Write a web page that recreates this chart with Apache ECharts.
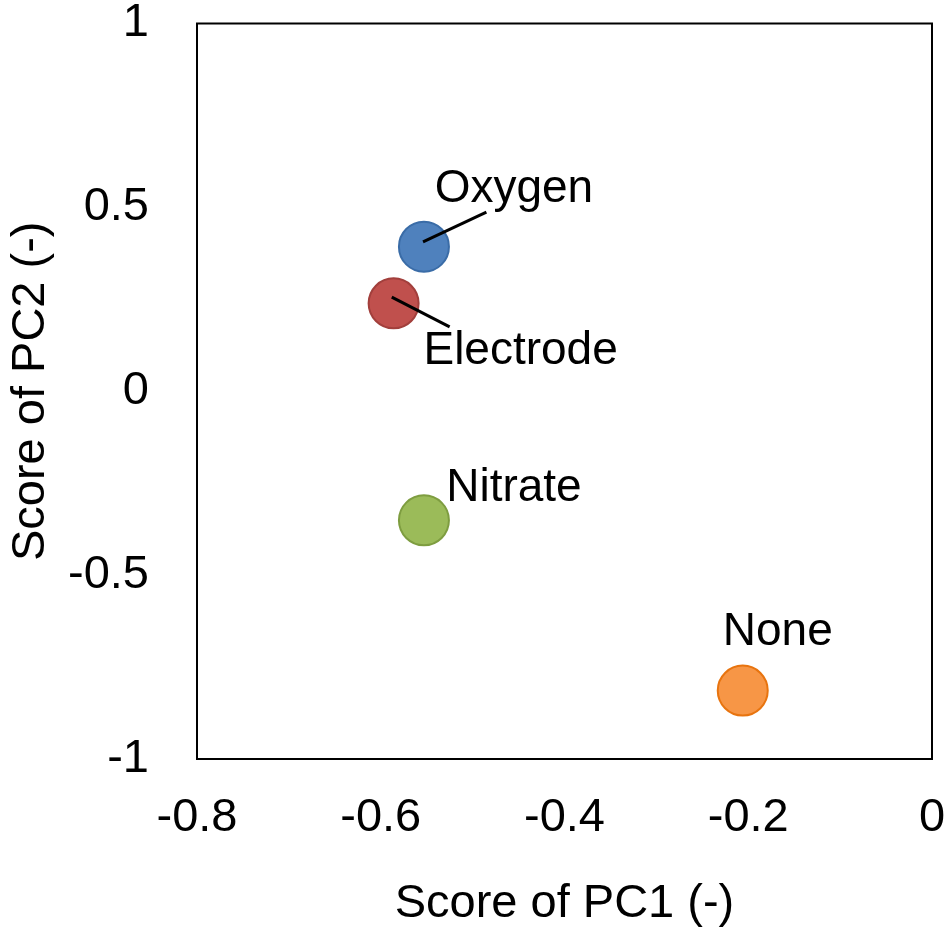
<!DOCTYPE html>
<html>
<head>
<meta charset="utf-8">
<script src="https://cdn.jsdelivr.net/npm/echarts@6/dist/echarts.min.js"></script>
<style>
  html, body { margin: 0; padding: 0; background: #fff; }
  #main { width: 951px; height: 933px; }
</style>
</head>
<body>
<div id="main"></div>
<script>
// treatments and their PCA scores
var names = ['Oxygen', 'Electrode', 'Nitrate', 'None'];
var pc1 = [-0.553, -0.586, -0.553, -0.206];
var pc2 = [0.393, 0.239, -0.351, -0.814];

// leader lines for the two crowded labels (start, end) in data units
var oxygenLeader = [[-0.554, 0.406], [-0.485, 0.487]];
var electrodeLeader = [[-0.588, 0.256], [-0.525, 0.175]];

var fills = ['#4F81BD', '#C0504D', '#9BBB59', '#F79646'];
var borders = ['#3A6CA7', '#A23F3C', '#7E9D40', '#E8740F'];
var labelOffsets = [[90, -57], [127, 48], [90, -32], [35, -58]];

var font = "'Liberation Sans', Arial, sans-serif";

function showScatter() {
  var myChart = echarts.init(document.getElementById('main'));

  var points = names.map(function (n, i) {
    return {
      name: n,
      value: [pc1[i], pc2[i]],
      itemStyle: { color: fills[i], borderColor: borders[i], borderWidth: 2, opacity: 1 },
      label: { offset: labelOffsets[i], color: '#000' }
    };
  });

  var leaderStyle = { color: '#000', width: 3 };

  var option = {
    animation: false,
    backgroundColor: '#fff',
    grid: {
      left: 195, right: 19, top: 23, bottom: 173,
      show: true, borderColor: '#000', borderWidth: 2, backgroundColor: '#fff'
    },
    xAxis: {
      type: 'value',
      min: -0.8, max: 0, interval: 0.2,
      name: 'Score of PC1 (-)',
      nameLocation: 'middle',
      nameGap: 122,
      nameTextStyle: { fontFamily: font, fontSize: 47, color: '#000' },
      axisLine: { show: false },
      axisTick: { show: false },
      splitLine: { show: false },
      axisLabel: { fontFamily: font, fontSize: 47, color: '#000', margin: 36 }
    },
    yAxis: {
      type: 'value',
      min: -1, max: 1, interval: 0.5,
      name: 'Score of PC2 (-)',
      nameLocation: 'middle',
      nameGap: 142,
      nameTextStyle: { fontFamily: font, fontSize: 47, color: '#000' },
      axisLine: { show: false },
      axisTick: { show: false },
      splitLine: { show: false },
      axisLabel: { fontFamily: font, fontSize: 47, color: '#000', margin: 48 }
    },
    series: [
      {
        type: 'scatter',
        symbol: 'circle',
        symbolSize: 50,
        data: points,
        z: 2,
        label: {
          show: true,
          position: 'inside',
          formatter: '{b}',
          fontFamily: font,
          fontSize: 46,
          color: '#000'
        }
      },
      {
        type: 'line',
        data: oxygenLeader,
        symbol: 'none',
        lineStyle: leaderStyle,
        z: 3
      },
      {
        type: 'line',
        data: electrodeLeader,
        symbol: 'none',
        lineStyle: leaderStyle,
        z: 3
      }
    ]
  };

  myChart.setOption(option);
}

showScatter();
</script>
</body>
</html>
